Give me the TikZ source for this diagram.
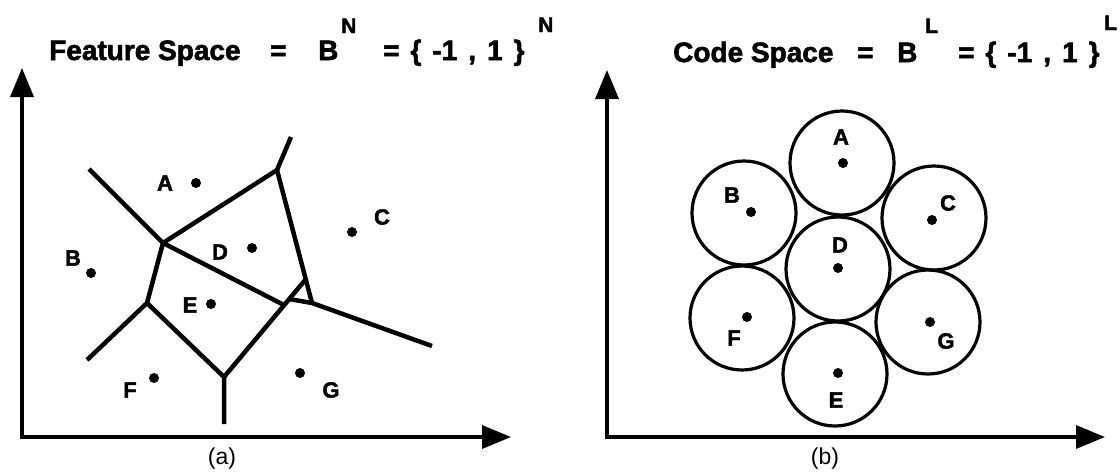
\documentclass[tikz,border=0pt]{standalone}
\usepackage{fontspec}
\setmainfont{Liberation Sans}[BoldFeatures={FakeBold=2}]
\usepackage{tikz}
\usetikzlibrary{arrows.meta,positioning}

\newcommand{\tsep}{\hspace{11pt}}

\begin{document}
\begin{tikzpicture}[
    x=1pt, y=-1pt,
    title/.style={font=\fontsize{28}{28}\selectfont\bfseries, inner sep=0pt, anchor=base west},
    expo/.style={font=\fontsize{21}{21}\selectfont\bfseries, inner sep=0pt, anchor=base west},
    ptlabel/.style={font=\fontsize{22}{22}\selectfont\bfseries, inner sep=0pt},
    caption/.style={font=\fontsize{23}{23}\selectfont, inner sep=0pt},
    dot/.style={circle, fill, inner sep=0pt, minimum size=10pt},
    edge/.style={line width=4.5pt, line join=miter},
    axis/.style={line width=3.5pt, {Triangle[length=29pt,width=23pt]}-{Triangle[length=29pt,width=23pt]}},
    codeword/.style={circle, draw, line width=3.2pt, minimum size=104pt, inner sep=0pt}
]
    \useasboundingbox (0,0) rectangle (1120,472);

    % Titles
    \node[title] (ftitle) at (49,60) {Feature Space};
    \node[title] (feq) at (270,60) {=};
    \node[title] (fb) at (318,60) {B};
    \node[expo] (fn) at (341,33) {N};
    \node[title] (fset) at (383,60) {=\tsep\{\tsep-1\tsep,\tsep1\tsep\}};
    \node[expo] (fn2) at (538,32) {N};

    \node[title] (ctitle) at (673,62) {Code Space};
    \node[title] (ceq) at (857,62) {=};
    \node[title] (cb) at (897,62) {B};
    \node[expo] (cl) at (925,33) {L};
    \node[title] (cset) at (958,62) {=\tsep\{\tsep-1\tsep,\tsep1\tsep\}};
    \node[expo] (cl2) at (1104,30) {L};

    % Axes
    \coordinate (fo) at (22,437);
    \coordinate (fy) at (22,68);
    \coordinate (fx) at (511,437);
    \draw[axis] (fy) -- (fo) -- (fx);
    \node[caption] (capa) at (222,459) {(a)};

    \coordinate (co) at (607,437);
    \coordinate (cy) at (607,70);
    \coordinate (cx) at (1105,437);
    \draw[axis] (cy) -- (co) -- (cx);
    \node[caption] (capb) at (825,459) {(b)};

    % Feature space cells
    \coordinate (p1) at (89,169);
    \coordinate (p2) at (291,137);
    \coordinate (p3) at (87,360);
    \coordinate (p4) at (224,424);
    \coordinate (p5) at (432,346);
    \coordinate (v1) at (163,243);
    \coordinate (v2) at (277,170);
    \coordinate (v3) at (147,303);
    \coordinate (v4) at (224,377);
    \coordinate (t1) at (284,305);
    \coordinate (ttop) at (306,279);
    \coordinate (tleft) at (289,299);
    \coordinate (tright) at (312,303);

    \draw[edge] (p1) -- (v1) -- (v2) -- (p2);
    \draw[edge] (v1) -- (t1);
    \draw[edge] (v1) -- (v3) -- (p3);
    \draw[edge] (v3) -- (v4) -- (p4);
    \draw[edge] (v4) -- (ttop);
    \draw[edge] (v2) -- (tright);
    \draw[edge] (tleft) -- (tright) -- (p5);

    % Feature space points
    \node[dot] (fa) at (196,183) {};
    \node[dot] (fbpt) at (91,273) {};
    \node[dot] (fc) at (352,232) {};
    \node[dot] (fd) at (252,248) {};
    \node[dot] (fe) at (211,304) {};
    \node[dot] (ff) at (154,378) {};
    \node[dot] (fg) at (300,373) {};

    \node[ptlabel] (la) at (165,183) {A};
    \node[ptlabel] (lb) at (73,258) {B};
    \node[ptlabel] (lc) at (382,217) {C};
    \node[ptlabel] (ld) at (220,252) {D};
    \node[ptlabel] (le) at (190,305) {E};
    \node[ptlabel] (lf) at (130,390) {F};
    \node[ptlabel] (lg) at (331,390) {G};

    % Code space spheres
    \node[codeword] (ca) at (842,163) {};
    \node[codeword] (cbc) at (744,213) {};
    \node[codeword] (cc) at (934,218) {};
    \node[codeword] (cd) at (838,269) {};
    \node[codeword] (ce) at (835,374) {};
    \node[codeword] (cf) at (742,318) {};
    \node[codeword] (cg) at (928,322) {};

    \node[dot] (da) at (843,163) {};
    \node[dot] (db) at (751,212) {};
    \node[dot] (dc) at (932,220) {};
    \node[dot] (dd) at (838,268) {};
    \node[dot] (de) at (838,373) {};
    \node[dot] (df) at (747,317) {};
    \node[dot] (dg) at (930,322) {};

    \node[ptlabel] (ra) at (841,137) {A};
    \node[ptlabel] (rb) at (732,195) {B};
    \node[ptlabel] (rc) at (948,203) {C};
    \node[ptlabel] (rd) at (840,245) {D};
    \node[ptlabel] (re) at (836,400) {E};
    \node[ptlabel] (rf) at (734,338) {F};
    \node[ptlabel] (rg) at (946,341) {G};

\end{tikzpicture}
\end{document}
